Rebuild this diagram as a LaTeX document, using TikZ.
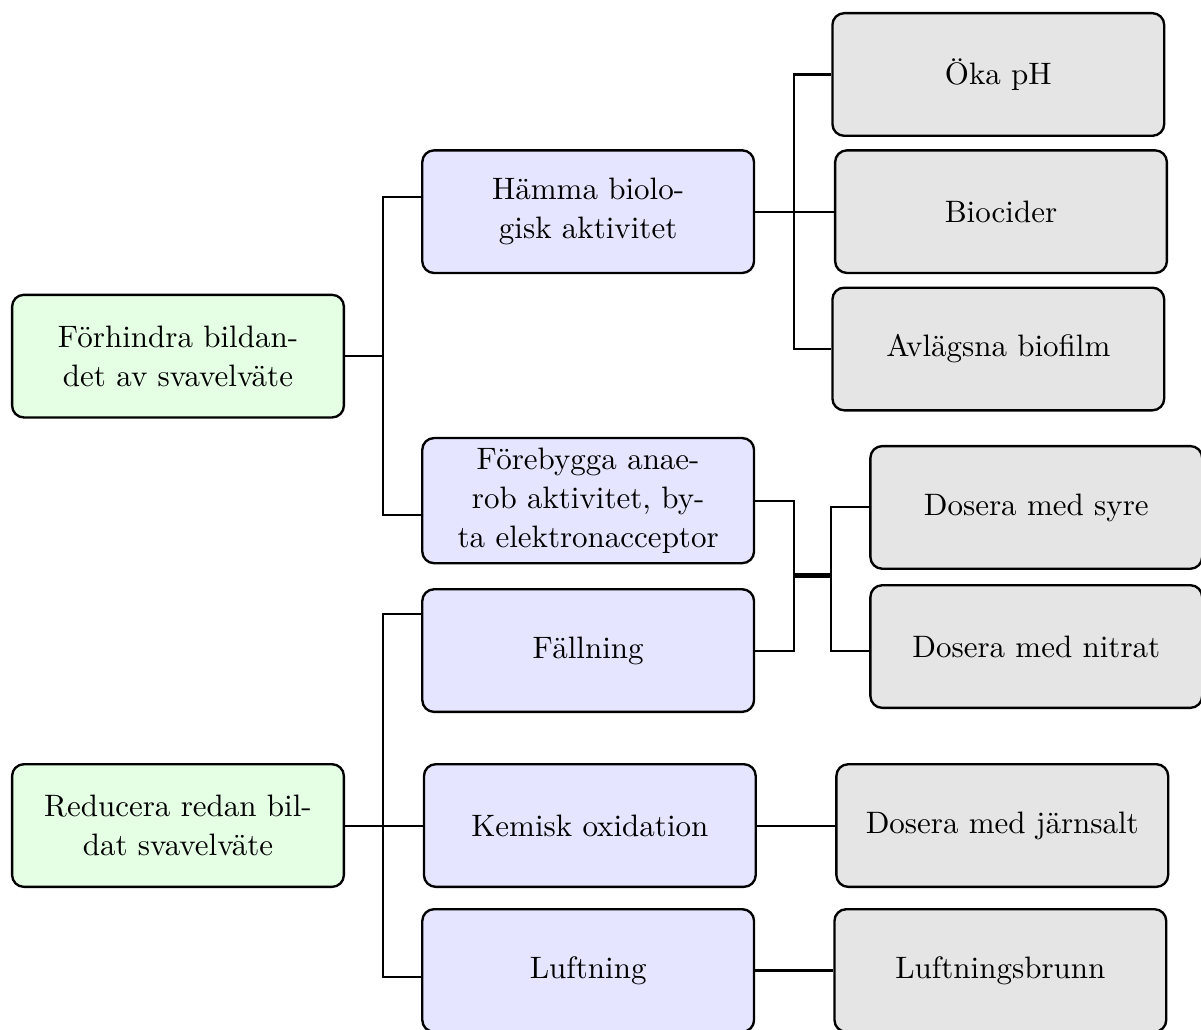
\documentclass[tikz,border=0pt]{standalone}
\usepackage{fontspec}
\usetikzlibrary{positioning,calc}

\begin{document}
\begin{tikzpicture}[
	ruta/.style={rectangle, rounded corners, draw, thick, minimum width=3.95cm, minimum height=1.46cm, align=center, font=\fontsize{10.5}{13.2}\selectfont},
	mal/.style={ruta, fill=green!10},
	atgard/.style={ruta, fill=blue!10},
	metod/.style={ruta, fill=gray!20},
	linje/.style={line width=0.7pt}
]
	\useasboundingbox (0,0) rectangle (14.298,-12.262);

	% huvudmal
	\node[mal] (forhindra) at (2.119,-4.240) {Förhindra bildan-\\det av svavelväte};
	\node[mal] (reducera) [below=4.1cm of forhindra] {Reducera redan bil-\\dat svavelväte};

	% atgarder
	\node[atgard] (hamma) [right=0.905cm of forhindra, yshift=1.72cm] {Hämma biolo-\\gisk aktivitet};
	\node[atgard] (forebygga) [right=0.905cm of forhindra, yshift=-1.72cm] {Förebygga anae-\\rob aktivitet, by-\\ta elektronacceptor};
	\node[atgard] (fallning) [right=0.905cm of reducera, yshift=2.083cm] {Fällning};
	\node[atgard] (kemisk) [right=0.925cm of reducera] {Kemisk oxidation};
	\node[atgard] (luftning) [right=0.905cm of reducera, yshift=-1.726cm] {Luftning};

	% metoder
	\node[metod] (okaph) [right=0.905cm of hamma, yshift=1.633cm] {Öka pH};
	\node[metod] (biocider) [right=0.937cm of hamma] {Biocider};
	\node[metod] (biofilm) [right=0.905cm of hamma, yshift=-1.635cm] {Avlägsna biofilm};
	\node[metod] (syre) [right=1.357cm of forebygga, yshift=-0.081cm] {Dosera med syre};
	\node[metod] (nitrat) [right=1.357cm of fallning, yshift=0.048cm] {Dosera med nitrat};
	\node[metod] (jarnsalt) [right=0.932cm of kemisk] {Dosera med järnsalt};
	\node[metod] (brunn) [right=0.929cm of luftning] {Luftningsbrunn};

	% grenpunkter
	\coordinate (gren1) at ($(forhindra.east)+(0.452,0)$);
	\coordinate (gren2) at ($(reducera.east)+(0.452,0)$);
	\coordinate (gren3) at ($(hamma.east)+(0.464,0)$);
	\coordinate (gren4) at ($(forebygga.east)!.5!(fallning.east)+(0.464,0)$);
	\coordinate (gren5) at ($(gren4)+(0.435,0)$);

	\draw[linje] (forhindra.east) -- (gren1);
	\draw[linje] (gren1) |- ([yshift=0.175cm]hamma.west);
	\draw[linje] (gren1) |- ([yshift=-0.17cm]forebygga.west);

	\draw[linje] (reducera.east) -- (gren2);
	\draw[linje] (gren2) |- ([yshift=0.437cm]fallning.west);
	\draw[linje] (gren2) |- (kemisk.west);
	\draw[linje] (gren2) |- ([yshift=-0.08cm]luftning.west);

	\draw[linje] (hamma.east) -- (gren3);
	\draw[linje] (gren3) |- (okaph.west);
	\draw[linje] (gren3) |- (biocider.west);
	\draw[linje] (gren3) |- (biofilm.west);

	\draw[linje] (forebygga.east) -| (gren4);
	\draw[linje] (fallning.east) -| (gren4);
	\draw[line width=1.5pt] (gren4) -- (gren5);
	\draw[linje] (gren5) |- (syre.west);
	\draw[linje] (gren5) |- (nitrat.west |- fallning.east);

	\draw[linje] (kemisk.east) -- (jarnsalt.west);
	\draw[linje] (luftning.east) -- (brunn.west);
\end{tikzpicture}
\end{document}
